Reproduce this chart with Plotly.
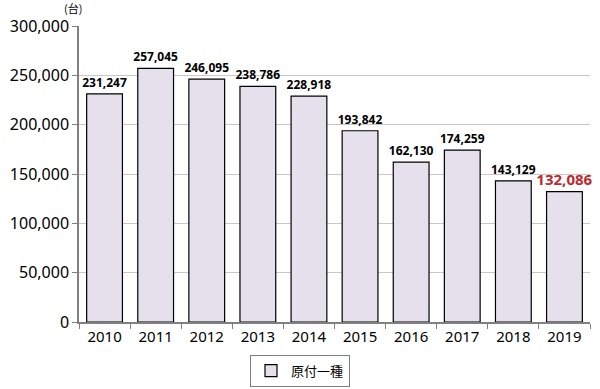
import plotly.graph_objects as go

years = ["2010", "2011", "2012", "2013", "2014", "2015", "2016", "2017", "2018", "2019"]
values = [231247, 257045, 246095, 238786, 228918, 193842, 162130, 174259, 143129, 132086]
series_name = "原付一種"
unit_label = "(台)"

labels = [f"{v:,}" for v in values]
colors = ["#000000"] * (len(values) - 1) + ["#C0282D"]
sizes = [12] * (len(values) - 1) + [15]

fig = go.Figure()
fig.add_trace(go.Bar(
    x=years, y=values, name=series_name,
    marker=dict(color="#E6E0EC", line=dict(color="#000000", width=1.2)),
    text=labels, textposition="outside", cliponaxis=False, constraintext="none",
    textfont=dict(family="Noto Sans, sans-serif", color=colors, size=sizes),
    texttemplate="<b>%{text}</b>",
    showlegend=True,
))

fig.update_layout(
    width=600, height=389,
    margin=dict(l=79, r=10, t=26, b=67),
    plot_bgcolor="white", paper_bgcolor="white",
    bargap=0.3,
    font=dict(family="Noto Sans, sans-serif", color="#000000"),
    legend=dict(orientation="h", xref="container", yref="container",
                x=0.5, xanchor="center", y=0.088, yanchor="top",
                bordercolor="#808080", borderwidth=1,
                font=dict(size=13, family="Noto Sans CJK JP, sans-serif")),
    annotations=[dict(text=unit_label, x=0, y=1, xref="paper", yref="paper",
                      xanchor="right", yanchor="bottom", xshift=4, yshift=9, showarrow=False,
                      borderpad=0,
                      font=dict(size=11, family="Noto Sans CJK JP, sans-serif"))],
)
fig.update_yaxes(range=[0, 300000], dtick=50000, tickformat=",", automargin=False,
                 showgrid=True, gridcolor="#C8C8C8", gridwidth=1,
                 showline=True, linecolor="#808080", linewidth=1.5,
                 ticks="outside", ticklen=5, tickcolor="#808080",
                 tickfont=dict(size=16), zeroline=False)
fig.update_xaxes(showline=True, linecolor="#808080", linewidth=1.5, automargin=False,
                 ticks="outside", ticklen=5, tickcolor="#808080", tickson="boundaries",
                 tickfont=dict(size=15))

fig.write_html("out.html", config={"displayModeBar": False})

with open("out.html", "r", encoding="utf-8") as f:
    html = f.read()
html = html.replace("<body>", '<body style="margin:0;padding:0;">', 1)
with open("out.html", "w", encoding="utf-8") as f:
    f.write(html)
